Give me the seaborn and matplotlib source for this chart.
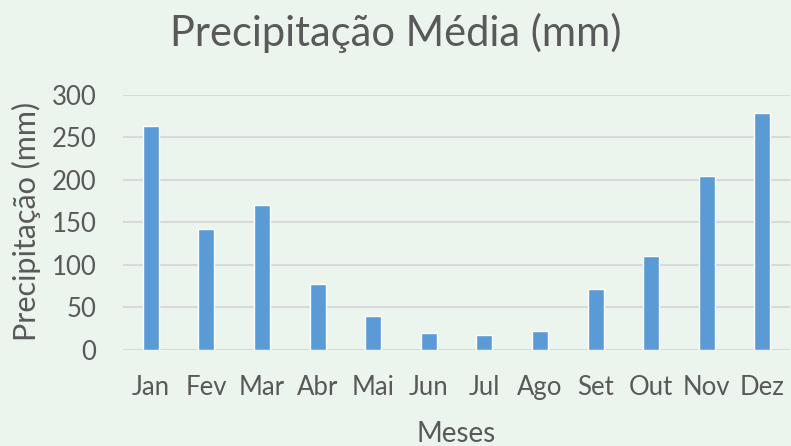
import matplotlib
matplotlib.use("Agg")
import matplotlib.pyplot as plt
import seaborn as sns
import pandas as pd

# dados
meses = ["Jan", "Fev", "Mar", "Abr", "Mai", "Jun", "Jul", "Ago", "Set", "Out", "Nov", "Dez"]
precipitacao = [263, 142, 170, 78, 40, 20, 18, 22, 72, 110, 204, 278]
y_ticks = [0, 50, 100, 150, 200, 250, 300]

fundo = "#EBF5EE"
cor_barra = "#5B9BD5"
cor_texto = "#595959"

sns.set_theme(style="white")
plt.rcParams["font.family"] = ["Lato", "DejaVu Sans"]

df = pd.DataFrame({"mes": meses, "valor": precipitacao})

fig = plt.figure(figsize=(7.91, 4.46), dpi=100)
fig.patch.set_facecolor(fundo)
ax = fig.add_axes([0.1555, 0.2152, 0.8435, 0.5725])
ax.set_facecolor(fundo)

sns.barplot(data=df, x="mes", y="valor", color=cor_barra, width=0.29,
            saturation=1, ax=ax, zorder=3)

ax.set_ylim(0, 300)
ax.set_xlim(-0.5, 11.5)
ax.set_yticks(y_ticks)
ax.yaxis.grid(True, color="#D9D9D9", linewidth=1.5, zorder=0)
ax.set_axisbelow(True)
for s in ax.spines.values():
    s.set_visible(False)
ax.tick_params(axis="both", length=0, colors=cor_texto)
ax.tick_params(axis="x", labelsize=18.5, pad=18)
ax.tick_params(axis="y", labelsize=18.5, pad=19)

# rótulos dos eixos
ax.set_xlabel("Meses", fontsize=20, color=cor_texto, va="center")
ax.xaxis.set_label_coords(0.5, -0.33)
ax.set_ylabel("Precipitação (mm)", fontsize=22, color=cor_texto, va="center")
ax.yaxis.set_label_coords(-0.144, 0.503)

fig.text(0.5, 0.926, "Precipitação Média (mm)", fontsize=30, color=cor_texto,
         ha="center", va="center")

fig.savefig("out.png", dpi=100, facecolor=fundo)
